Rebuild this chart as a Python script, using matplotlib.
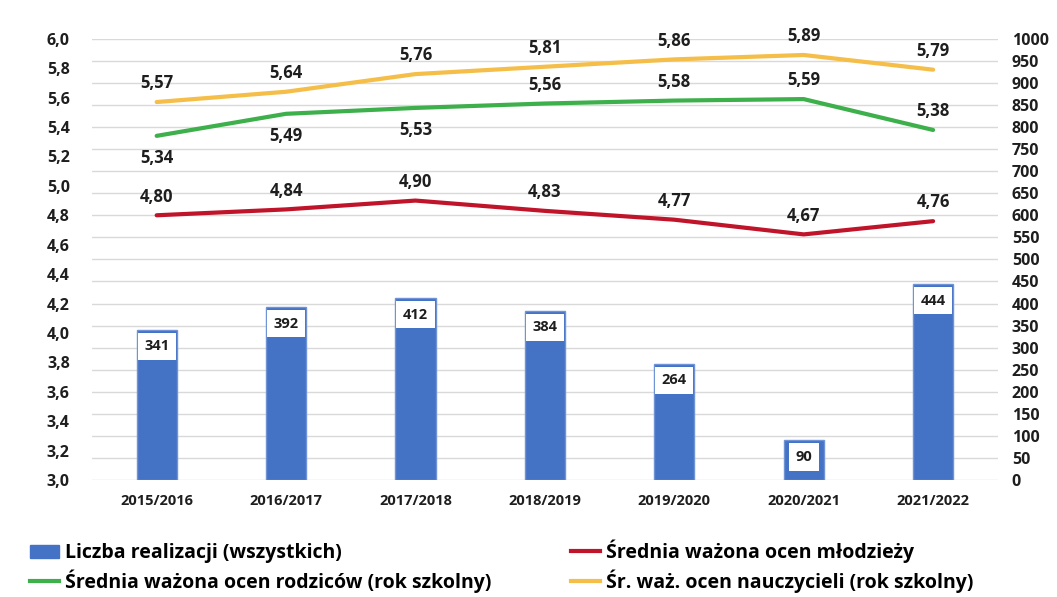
import matplotlib
matplotlib.use("Agg")
import matplotlib.pyplot as plt
from matplotlib.lines import Line2D
from matplotlib.patches import Patch

plt.rcParams['font.family'] = ['Open Sans', 'DejaVu Sans']
plt.rcParams['font.weight'] = 'bold'

years = ["2015/2016", "2016/2017", "2017/2018", "2018/2019", "2019/2020", "2020/2021", "2021/2022"]
realizacje = [341, 392, 412, 384, 264, 90, 444]
mlodziez = [4.80, 4.84, 4.90, 4.83, 4.77, 4.67, 4.76]
rodzice = [5.34, 5.49, 5.53, 5.56, 5.58, 5.59, 5.38]
nauczyciele = [5.57, 5.64, 5.76, 5.81, 5.86, 5.89, 5.79]
rodzice_above = [False, False, False, True, True, True, True]

c_bar = "#4472C4"
c_red = "#C0142A"
c_green = "#3DAF4B"
c_yellow = "#F4BE48"
c_txt = "#1E1E1E"

fig = plt.figure(figsize=(10.57, 5.97), dpi=100)
ax = fig.add_axes([0.087, 0.196, 0.857, 0.739])
ax2 = ax.twinx()

x = list(range(len(years)))
ax.set_xlim(-0.5, len(years) - 0.5)
ax.set_ylim(3.0, 6.0)
ax2.set_ylim(0, 1000)

ax2.bar(x, realizacje, width=0.31, color=c_bar, edgecolor="#6E93D6", linewidth=1.0, zorder=2)
for xi, v in zip(x, realizacje):
    ax2.annotate(f"{v}", (xi, v), xytext=(0, -12), textcoords="offset points",
                 ha="center", va="center", fontsize=10.5, fontweight="bold", color=c_txt,
                 bbox=dict(boxstyle="square,pad=0.45", fc="white", ec="none"), zorder=5)

ax.set_zorder(ax2.get_zorder() + 1)
ax.patch.set_visible(False)

ax.plot(x, mlodziez, color=c_red, lw=3, solid_capstyle="round")
ax.plot(x, rodzice, color=c_green, lw=3, solid_capstyle="round")
ax.plot(x, nauczyciele, color=c_yellow, lw=3, solid_capstyle="round")

def fmt(v):
    return f"{v:.2f}".replace(".", ",")

lab_kw = dict(textcoords="offset points", ha="center", va="center",
              fontsize=12, fontweight="bold", color=c_txt)
for xi, v in zip(x, mlodziez):
    ax.annotate(fmt(v), (xi, v), xytext=(0, 13.5), **lab_kw)
for xi, v, ab in zip(x, rodzice, rodzice_above):
    ax.annotate(fmt(v), (xi, v), xytext=(0, 13.5 if ab else -16), **lab_kw)
for xi, v in zip(x, nauczyciele):
    ax.annotate(fmt(v), (xi, v), xytext=(0, 13.5), **lab_kw)

yt = [3.0 + 0.2 * i for i in range(16)]
ax.set_yticks(yt)
ax.set_yticklabels([f"{t:.1f}".replace(".", ",") for t in yt], fontsize=11.5, fontweight="bold", color=c_txt)
ax2.set_yticks(list(range(0, 1001, 50)))
ax2.set_yticklabels([str(t) for t in range(0, 1001, 50)], fontsize=11.5, fontweight="bold", color=c_txt)
ax.set_xticks(x)
ax.set_xticklabels(years, fontsize=10.5, fontweight="bold", color=c_txt)

for a in (ax, ax2):
    for s in a.spines.values():
        s.set_visible(False)
    a.tick_params(length=0)
ax.tick_params(axis="y", pad=16)
ax.tick_params(axis="x", pad=10)
ax2.tick_params(axis="y", pad=10)
ax2.grid(axis="y", color="#D9D9D9", lw=1)
ax2.set_axisbelow(True)

handles = [Patch(color=c_bar), Line2D([], [], color=c_green, lw=3),
           Line2D([], [], color=c_red, lw=3), Line2D([], [], color=c_yellow, lw=3)]
labels = ["Liczba realizacji (wszystkich)", "Średnia ważona ocen rodziców (rok szkolny)",
          "Średnia ważona ocen młodzieży", "Śr. waż. ocen nauczycieli (rok szkolny)"]
fig.legend(handles, labels, loc="lower left", bbox_to_anchor=(0.012, -0.022), ncol=2,
           frameon=False, handlelength=1.5, handletextpad=0.3,
           columnspacing=4.1, labelspacing=0.3, prop=dict(size=14, weight="bold"))

fig.savefig("out.png", dpi=100, facecolor="white")
